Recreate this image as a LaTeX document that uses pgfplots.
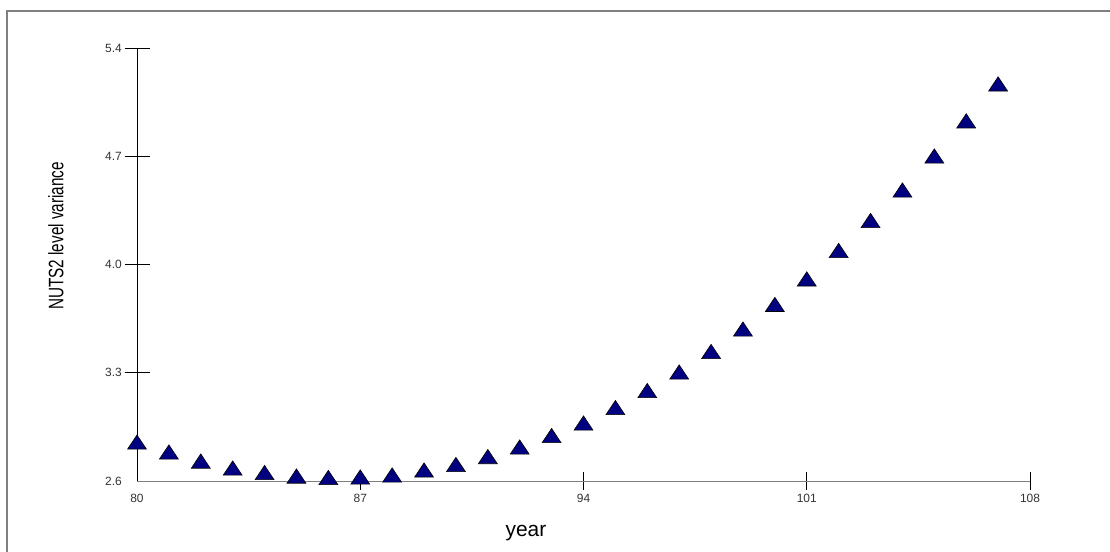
\documentclass[border=0pt]{standalone}
\usepackage{graphicx}
\usepackage{fontspec}
\setmainfont{Liberation Sans}
\usepackage{pgfplots}
\pgfplotsset{compat=1.18}
\definecolor{navy}{HTML}{000080}
\definecolor{tickgray}{HTML}{333333}
\begin{document}
\begin{tikzpicture}
\useasboundingbox (0,0) rectangle (1110bp,552bp);
\draw[color=gray, line width=1.2bp] (7bp,-10bp) -- (7bp,541bp) -- (1120bp,541bp);
\begin{axis}[
  at={(137bp,71bp)}, anchor=south west,
  scale only axis, width=893bp, height=433bp,
  xmin=80, xmax=108, ymin=2.6, ymax=5.4,
  axis lines=left,
  axis line style={-},
  x axis line style={color=gray, line width=1bp},
  y axis line style={color=black, line width=0.9bp},
  clip=false,
  tick align=center,
  xtick={87,94,101,108},
  xticklabels={87,94,101,108},
  ytick={3.3,4.0,4.7,5.4},
  yticklabels={3.3,4.0,4.7,5.4},
  extra x ticks={80}, extra x tick labels={80},
  extra y ticks={2.6}, extra y tick labels={2.6},
  extra x tick style={xtick style={/pgfplots/major tick length=0pt}},
  extra y tick style={ytick style={/pgfplots/major tick length=0pt}},
  xtick style={black, line width=0.9bp, /pgfplots/major tick length=17bp},
  ytick style={black, line width=0.9bp, /pgfplots/major tick length=25bp},
  ticklabel style={font=\fontsize{12}{14}\selectfont, text=tickgray},
  xticklabel style={yshift=-8bp},
  yticklabel style={xshift=-9.5bp},
  xlabel={year},
  xlabel style={at={(rel axis cs:0.4356,-0.129)}, anchor=base, font=\fontsize{21}{24}\selectfont},
  ylabel={\scalebox{0.73}[1]{NUTS2 level variance}},
  ylabel style={at={(rel axis cs:-0.0907,0.566)}, anchor=center, rotate=0, font=\fontsize{21}{24}\selectfont},
]
\addplot[only marks, mark=triangle*, mark size=9.5bp,
  mark options={fill=navy, draw=black, line width=0.6bp, xscale=1.15, yshift=-2.4bp}]
coordinates {
(80,2.852) (81,2.788) (82,2.729) (83,2.684) (84,2.655) (85,2.632) (86,2.623)
(87,2.626) (88,2.639) (89,2.671) (90,2.707) (91,2.758) (92,2.820) (93,2.894)
(94,2.975) (95,3.075) (96,3.185) (97,3.305) (98,3.438) (99,3.583) (100,3.742)
(101,3.907) (102,4.091) (103,4.285) (104,4.482) (105,4.702) (106,4.929) (107,5.168)
};
\end{axis}
\end{tikzpicture}
\end{document}
